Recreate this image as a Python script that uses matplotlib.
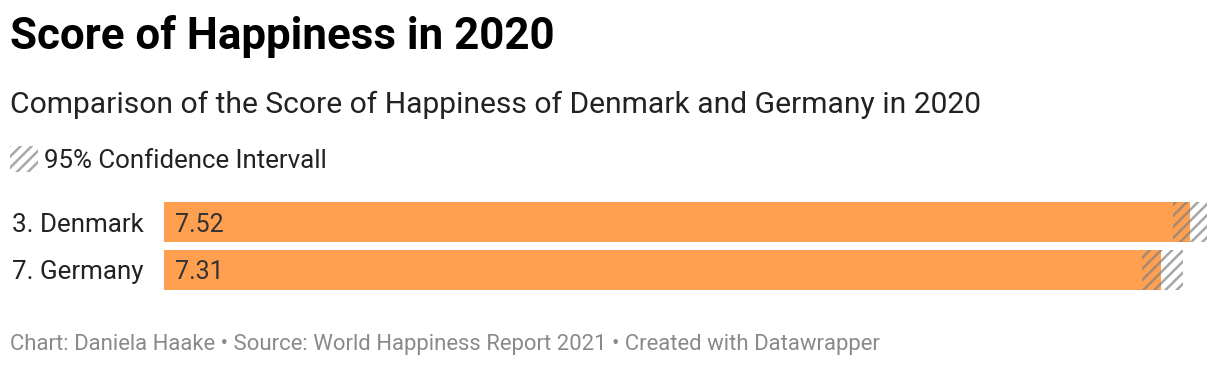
import matplotlib.pyplot as plt
from matplotlib.patches import Rectangle

plt.rcParams['font.family'] = ['Roboto', 'DejaVu Sans']
plt.rcParams['hatch.linewidth'] = 1.8

# data
paises = ['3. Denmark', '7. Germany']
valores = [7.52, 7.31]
ic_bajo = [7.40, 7.17]
ic_alto = [7.65, 7.47]

W, H = 1220, 366
fig = plt.figure(figsize=(W / 100, H / 100), dpi=100)

def fy(py):
    return 1 - py / H

# textos de cabecera
fig.text(10 / W, fy(49), 'Score of Happiness in 2020', fontsize=31.6,
         fontweight='bold', color='#000000', va='baseline')
fig.text(10 / W, fy(113), 'Comparison of the Score of Happiness of Denmark and Germany in 2020',
         fontsize=21.6, color='#222222', va='baseline')

# leyenda
fig.patches.append(Rectangle((10 / W, fy(172)), 28 / W, 26 / H, transform=fig.transFigure,
                             facecolor='white', edgecolor=(0.55, 0.55, 0.55, 0.75),
                             hatch='///', lw=0))
fig.text(44 / W, fy(168), '95% Confidence Intervall', fontsize=18.6,
         color='#222222', va='baseline')

# barras
x0, x1 = 164, 1208
escala = 136.4
ax = fig.add_axes([x0 / W, fy(290), (x1 - x0) / W, 88 / H])
ax.set_xlim(0, (x1 - x0) / escala)
ax.set_ylim(1.4167, -0.4167)
pos = range(len(paises))
ax.barh(pos, valores, height=0.8333, color='#ffa050', lw=0)
ax.barh(pos, [a - b for a, b in zip(ic_alto, ic_bajo)], left=ic_bajo, height=0.8333,
        facecolor='none', edgecolor=(0.5, 0.5, 0.5, 0.7), hatch='///', lw=0)
for i, v in enumerate(valores):
    ax.text(0.08, i, f'{v:.2f}', fontsize=18, color='#333333', va='center_baseline')
    ax.text(-20 / escala, i, paises[i], fontsize=18.7, color='#222222',
            va='center_baseline', ha='right')
ax.axis('off')

# pie
fig.text(10 / W, fy(350), 'Chart: Daniela Haake • Source: World Happiness Report 2021 • Created with Datawrapper',
         fontsize=15.9, color='#8a8a8a', va='baseline')

fig.savefig('out.png', dpi=100)
